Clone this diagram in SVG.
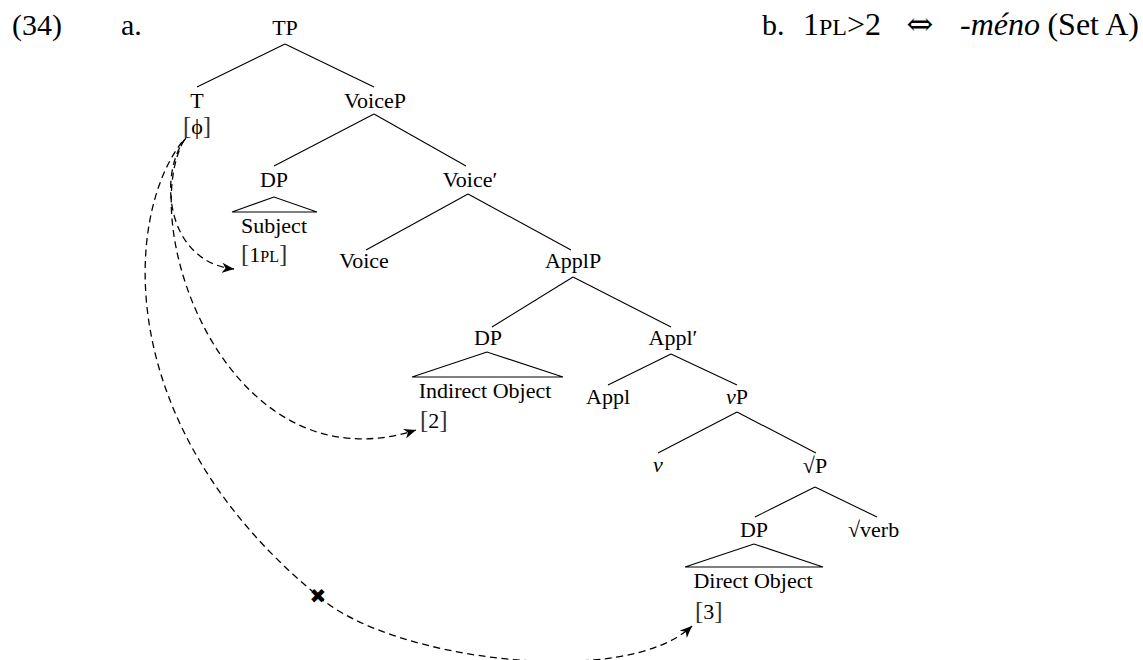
<svg xmlns="http://www.w3.org/2000/svg" width="1143" height="660" viewBox="0 0 1143 660">
<style>
.t{font-family:"Liberation Serif","DejaVu Serif",serif;font-size:22px;fill:#000;text-anchor:middle}
.s{text-anchor:start}
.l{font-family:"Liberation Serif","DejaVu Serif",serif;font-size:30px;fill:#000}
.f{font-family:"Liberation Serif","DejaVu Serif",serif;font-size:32px;fill:#000}
.e{stroke:#000;stroke-width:1.1;fill:none}
.tri{stroke:#000;stroke-width:1.1;fill:none;stroke-linejoin:miter}
.d{stroke:#000;stroke-width:1.3;fill:none;stroke-dasharray:7 4.5}
.sc{font-size:16px}
.sc2{font-size:24px}
.br{fill:#333;font-size:25px}
.i{font-style:italic}
.sym{font-family:"DejaVu Serif",serif}
</style>
<defs>
<marker id="ah" markerWidth="13" markerHeight="11" refX="12" refY="5.5" orient="auto" markerUnits="userSpaceOnUse"><path d="M0,0.5 L12,5.5 L0,10.5 L3.5,5.5 z" fill="#000"/></marker>
</defs>
<rect x="0" y="0" width="1143" height="660" fill="#fff"/>

<g id="labels">
<text class="l" x="12" y="35">(34)</text>
<text class="l" x="121" y="35">a.</text>
<text class="l" x="762" y="35">b.</text>
<text class="f" x="803" y="35">1<tspan class="sc2">PL</tspan>&gt;2</text>
<text class="f sym" x="920" y="35" font-size="34" text-anchor="middle">⇔</text>
<text class="f i" x="1040" y="35" text-anchor="end">-méno</text>
<text class="f" x="1139" y="35" text-anchor="end">(Set A)</text>
</g>

<g id="connectors">
<line class="e" x1="285" y1="44" x2="197" y2="87"/>
<line class="e" x1="285" y1="44" x2="374" y2="87"/>
<line class="e" x1="374" y1="114" x2="274" y2="166"/>
<line class="e" x1="374" y1="114" x2="466" y2="166"/>
<line class="e" x1="468" y1="194" x2="366" y2="250"/>
<line class="e" x1="468" y1="194" x2="571" y2="250"/>
<line class="e" x1="573" y1="277" x2="492" y2="327"/>
<line class="e" x1="573" y1="277" x2="671" y2="327"/>
<line class="e" x1="671" y1="354" x2="608" y2="385"/>
<line class="e" x1="671" y1="354" x2="737" y2="385"/>
<line class="e" x1="737" y1="412" x2="658" y2="453"/>
<line class="e" x1="737" y1="412" x2="816" y2="453"/>
<line class="e" x1="815" y1="487" x2="755" y2="517"/>
<line class="e" x1="815" y1="487" x2="877" y2="517"/>
<path class="d" d="M186,138 C158,172 165,262 234,269" marker-end="url(#ah)"/>
<path class="d" d="M184,140 C135,230 230,490 416,430" marker-end="url(#ah)"/>
<path class="d" d="M182,142 C125,215 110,425 318,596 C390,660 625,690 692,626" marker-end="url(#ah)"/>
<text x="318" y="603" font-family="DejaVu Sans, sans-serif" font-size="20" text-anchor="middle">✖</text>
</g>

<g id="n-tp"><text class="t" x="285" y="35">TP</text></g>
<g id="n-t"><text class="t" x="197" y="108">T</text>
<text class="t" x="197" y="134"><tspan class="br">[</tspan>ϕ<tspan class="br">]</tspan></text></g>
<g id="n-voicep"><text class="t" x="375" y="108">VoiceP</text></g>
<g id="n-dp-subj"><text class="t" x="274" y="187">DP</text>
<polygon class="tri" points="274,197 232,212 317,212"/>
<text class="t" x="274" y="233">Subject</text>
<text class="t s" x="241" y="262"><tspan class="br">[</tspan>1<tspan class="sc">PL</tspan><tspan class="br">]</tspan></text></g>
<g id="n-voicebar"><text class="t" x="470" y="187">Voice′</text></g>
<g id="n-voice"><text class="t" x="364" y="268">Voice</text></g>
<g id="n-applp"><text class="t" x="573" y="268">ApplP</text></g>
<g id="n-dp-io"><text class="t" x="488" y="345">DP</text>
<polygon class="tri" points="487,352 412,377 563,377"/>
<text class="t" x="485" y="398">Indirect Object</text>
<text class="t s" x="420" y="428"><tspan class="br">[</tspan>2<tspan class="br">]</tspan></text></g>
<g id="n-applbar"><text class="t" x="673" y="345">Appl′</text></g>
<g id="n-appl"><text class="t" x="608" y="404">Appl</text></g>
<g id="n-vp"><text class="t" x="737" y="404"><tspan class="i">v</tspan>P</text></g>
<g id="n-v"><text class="t i" x="658" y="472">v</text></g>
<g id="n-rootp"><text class="t" x="815" y="473">√P</text></g>
<g id="n-dp-do"><text class="t" x="754" y="537">DP</text>
<polygon class="tri" points="754,544 685,567 823,567"/>
<text class="t" x="753" y="588">Direct Object</text>
<text class="t s" x="695" y="619"><tspan class="br">[</tspan>3<tspan class="br">]</tspan></text></g>
<g id="n-rootverb"><text class="t s" x="848" y="537">√verb</text></g>
</svg>
